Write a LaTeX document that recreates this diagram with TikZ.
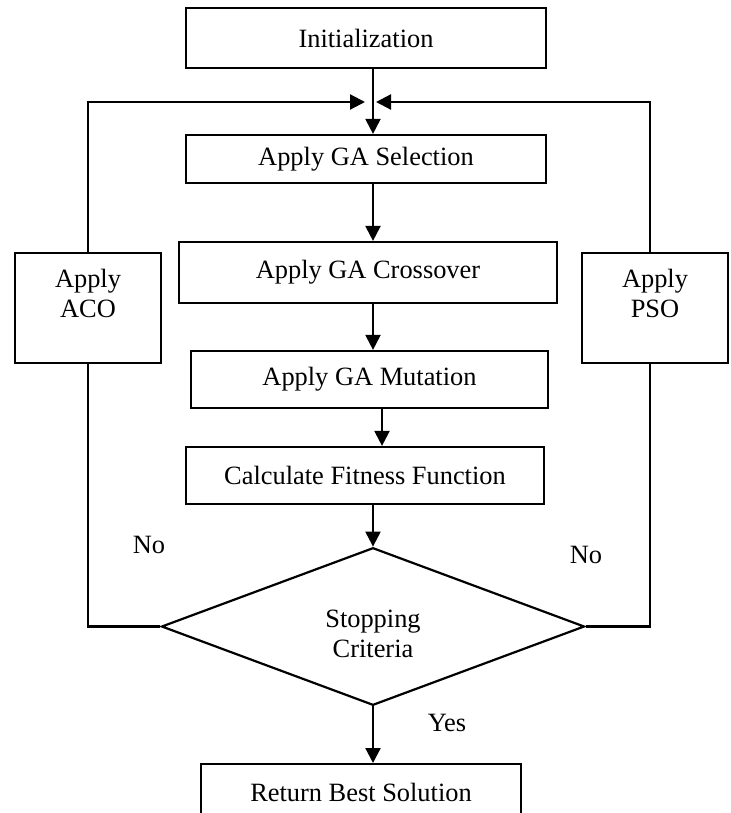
\documentclass[tikz,border=0pt]{standalone}
\usepackage{fontspec}
\setmainfont{Liberation Serif}
\usetikzlibrary{shapes.geometric,arrows.meta}
\begin{document}
\begin{tikzpicture}[x=0.5pt,y=-0.5pt,
  every node/.style={font=\fontsize{13.2pt}{15pt}\selectfont},
  box/.style={draw, line width=1.1pt, rectangle, inner sep=0pt, align=center},
  choice/.style={draw, line width=1.1pt, diamond, inner sep=0pt, align=center,
    minimum width=211.5pt, minimum height=77pt},
  link/.style={line width=1.1pt},
  arr/.style={line width=1.1pt, -{Triangle[length=7.5pt,width=7.5pt]}},
  lbl/.style={inner sep=0pt}]
\useasboundingbox (0,0) rectangle (731,813);
\clip (0,0) rectangle (731,813);

% main column
\node[box, minimum width=180pt, minimum height=30pt] (init) at (366,38) {Initialization};
\node[box, minimum width=180pt, minimum height=24pt] (sel) at (366,159) {Apply GA Selection};
\node[box, minimum width=189pt, minimum height=30.5pt] (cross) at (368,272.5) {Apply GA Crossover};
\node[box, minimum width=178.5pt, minimum height=28.5pt] (mut) at (369.5,379.5) {Apply GA Mutation};
\node[box, minimum width=179pt, minimum height=28.5pt] (fit) at (365,475.5) {Calculate Fitness Function};
\node[choice] (dia) at (373,626.5) {\rule{0pt}{16pt}Stopping\\Criteria};
\node[box, anchor=north, minimum width=160pt, minimum height=28pt] (ret) at (361,763) {Return Best Solution};

% side boxes
\node[box, minimum width=73pt, minimum height=55pt] (aco) at (88,308) {Apply\\ACO\\[0pt]~};
\node[box, minimum width=73pt, minimum height=55pt] (pso) at (655,308) {Apply\\PSO\\[0pt]~};

% reference points for the connectors
\coordinate (spine) at (373,0);
\coordinate (spineb) at (382,0);
\coordinate (ltip) at (365,102);
\coordinate (rtip) at (376,102);
\coordinate (lcol) at (88,0);
\coordinate (rcol) at (650,0);

% downward flow
\draw[arr] (init.south -| spine) -- (sel.north -| spine);
\draw[arr] (sel.south -| spine) -- (cross.north -| spine);
\draw[arr] (cross.south -| spine) -- (mut.north -| spine);
\draw[arr] (mut.south -| spineb) -- (fit.north -| spineb);
\draw[arr] (fit.south -| spine) -- (dia.north);
\draw[arr] (dia.south) -- (dia.south |- ret.north);

% feedback loops
\draw[link] (dia.west) -- (dia.west -| lcol) -- (aco.south -| lcol);
\draw[arr] (aco.north -| lcol) |- (ltip);
\draw[link] (dia.east) -- (dia.east -| rcol) -- (pso.south -| rcol);
\draw[arr] (pso.north -| rcol) |- (rtip);

% branch labels
\node[lbl] (no1) at (149,545) {No};
\node[lbl] (no2) at (586,555) {No};
\node[lbl] (yes) at (447,723) {Yes};
\end{tikzpicture}
\end{document}
